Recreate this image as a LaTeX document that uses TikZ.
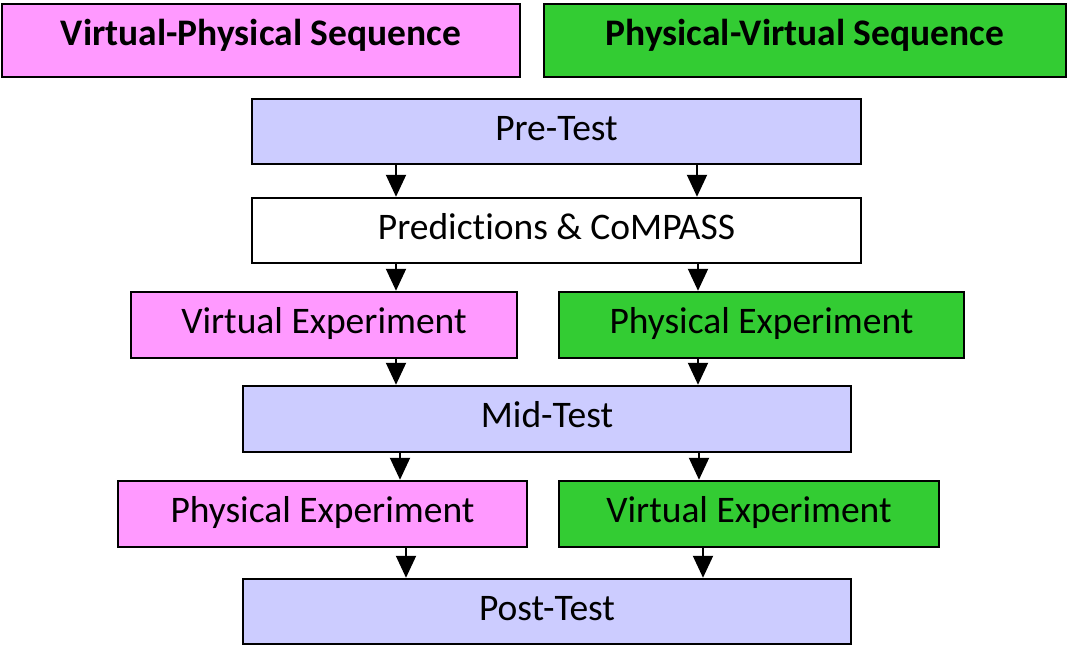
\documentclass[tikz,border=0pt]{standalone}
\usepackage{fontspec}
\setmainfont{Carlito}[Ligatures=NoCommon]
\usetikzlibrary{arrows.meta}
\definecolor{pinkc}{HTML}{FF99FF}
\definecolor{greenc}{HTML}{33CC33}
\definecolor{lavc}{HTML}{CCCCFF}
\tikzset{
  box/.style={draw=black, line width=2.5pt, rectangle, inner sep=0pt, anchor=center,
    font=\fontsize{37.5}{40}\selectfont, text height=27pt, text depth=10pt},
  titlebox/.style={box, font=\fontsize{37.5}{40}\selectfont\bfseries, minimum height=73pt,
    text height=24pt, text depth=15pt},
  arr/.style={line width=2pt, -{Triangle[width=20pt,length=22pt]}}
}
\begin{document}
\begin{tikzpicture}[x=1pt,y=-1pt]
\useasboundingbox (0,0) rectangle (1068,648);
\node[titlebox, fill=pinkc, minimum width=518pt] (vps) at (261,40.5) {Virtual-Physical Sequence};
\node[titlebox, fill=greenc, minimum width=522pt] (pvs) at (805,40.5) {Physical-Virtual Sequence};
\node[box, fill=lavc, minimum width=609pt, minimum height=65pt] (pre) at (556.5,131.5) {Pre-Test};
\node[box, fill=white, minimum width=609pt, minimum height=65pt] (pred) at (556.5,230.5) {Predictions \& CoMPASS};
\node[box, fill=pinkc, minimum width=386pt, minimum height=66pt] (ve1) at (324,325) {Virtual Experiment};
\node[box, fill=greenc, minimum width=405pt, minimum height=66pt] (pe1) at (761.5,325) {Physical Experiment};
\node[box, fill=lavc, minimum width=608pt, minimum height=66pt] (mid) at (547,419) {Mid-Test};
\node[box, fill=pinkc, minimum width=409pt, minimum height=66pt] (pe2) at (322.5,514) {Physical Experiment};
\node[box, fill=greenc, minimum width=380pt, minimum height=66pt] (ve2) at (749,514) {Virtual Experiment};
\node[box, fill=lavc, minimum width=608pt, minimum height=65pt] (post) at (547,611.5) {Post-Test};
\coordinate (a1) at (396,0);
\coordinate (b1) at (697,0);
\coordinate (b2) at (698,0);
\coordinate (a4) at (400,0);
\coordinate (b4) at (699,0);
\coordinate (a5) at (406,0);
\coordinate (b5) at (703,0);
\draw[arr] (pre.south -| a1) -- (pred.north -| a1);
\draw[arr] (pre.south -| b1) -- (pred.north -| b1);
\draw[arr] (pred.south -| a1) -- (ve1.north -| a1);
\draw[arr] (pred.south -| b2) -- (pe1.north -| b2);
\draw[arr] (ve1.south -| a1) -- (mid.north -| a1);
\draw[arr] (pe1.south -| b2) -- (mid.north -| b2);
\draw[arr] (mid.south -| a4) -- (pe2.north -| a4);
\draw[arr] (mid.south -| b4) -- (ve2.north -| b4);
\draw[arr] (pe2.south -| a5) -- (post.north -| a5);
\draw[arr] (ve2.south -| b5) -- (post.north -| b5);
\end{tikzpicture}
\end{document}
